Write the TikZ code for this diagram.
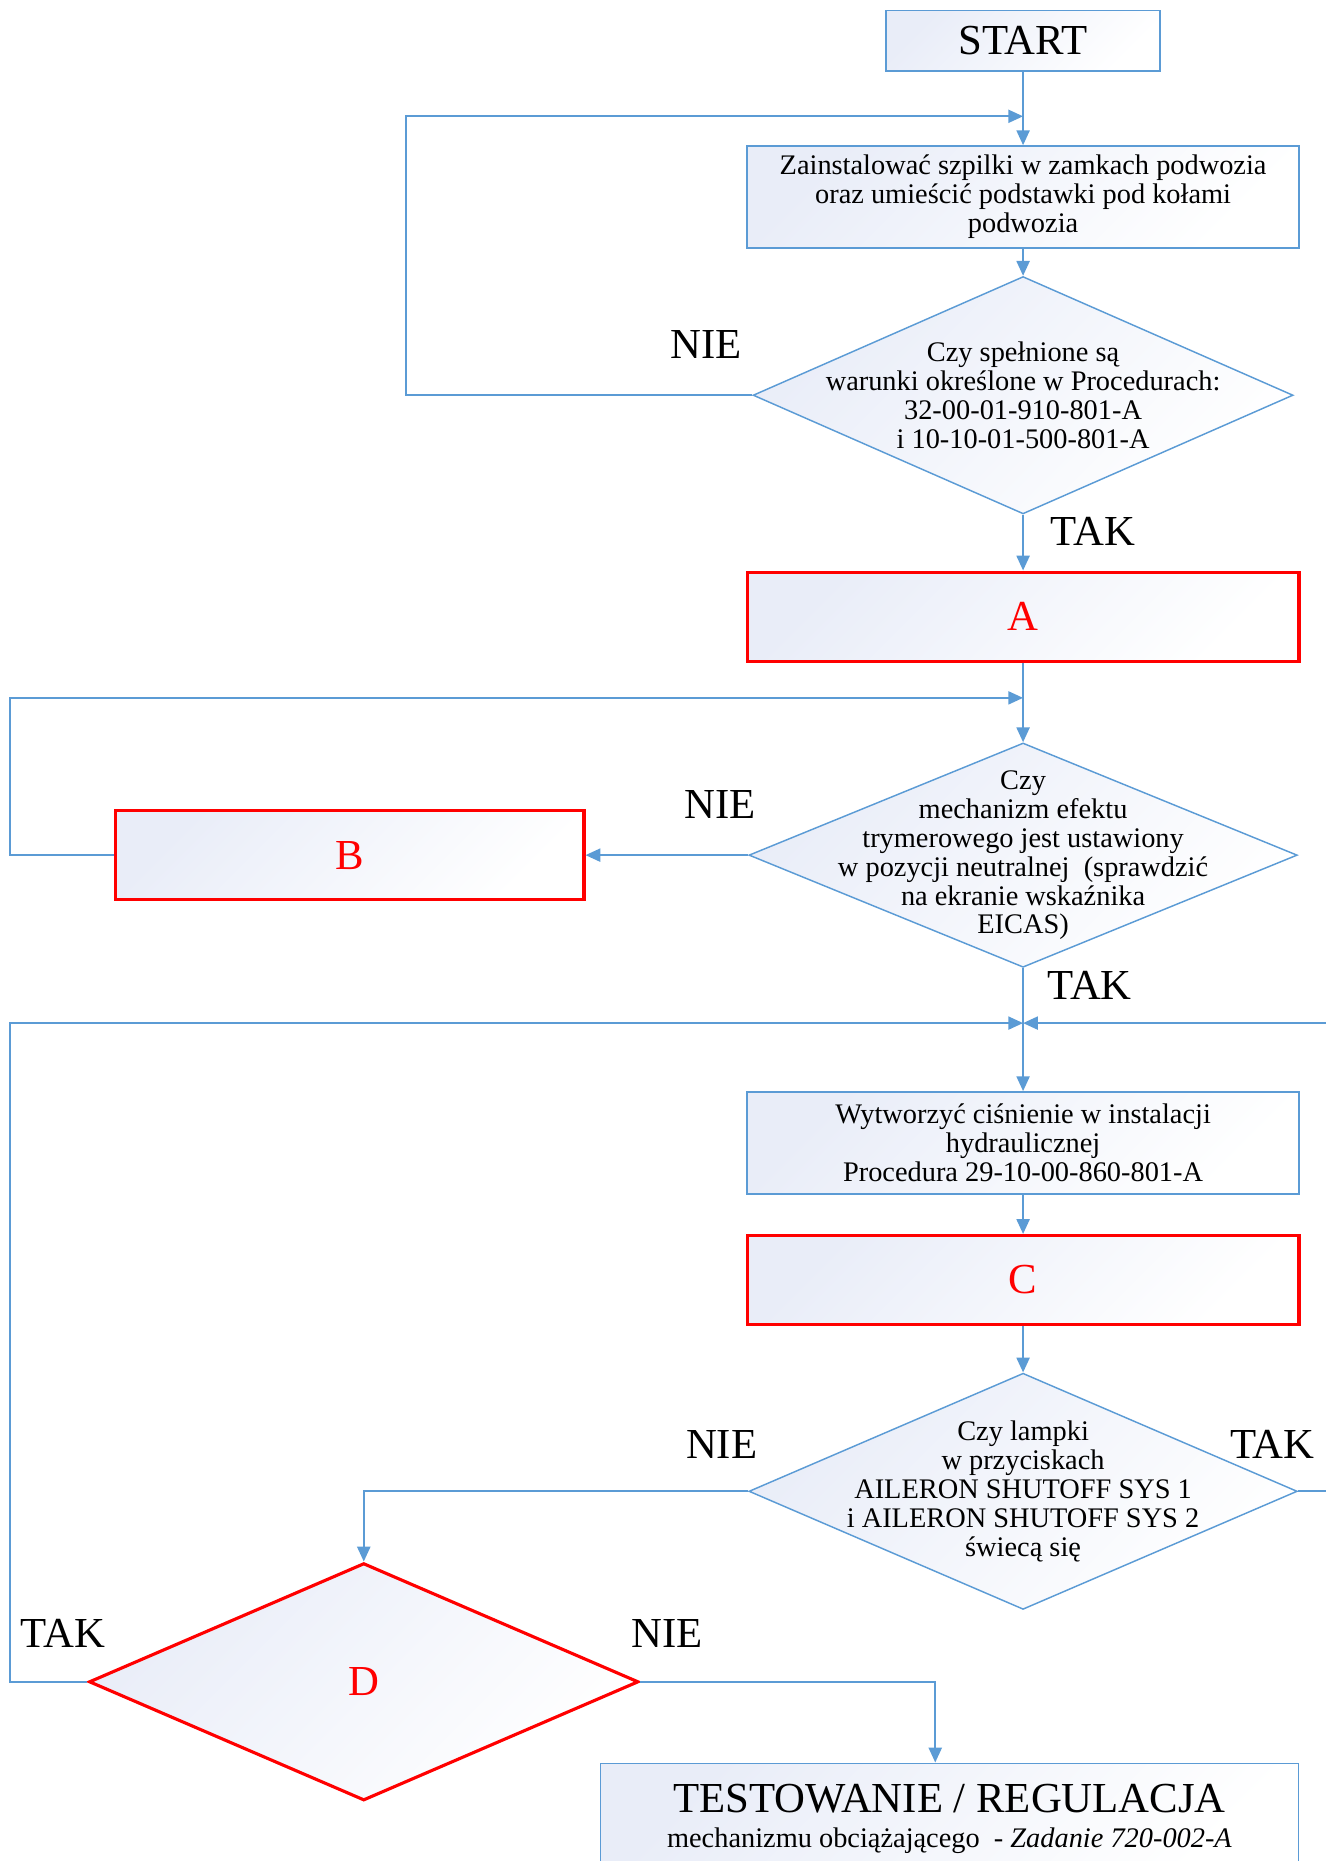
\documentclass[tikz,border=0pt]{standalone}
\usepackage{fontspec}
\setmainfont{Liberation Serif}
\usepackage{tikz}
\usetikzlibrary{shapes.geometric, arrows.meta, positioning}

\definecolor{niebieski}{RGB}{91,155,213}
\definecolor{tlo}{RGB}{233,237,248}

\newcommand{\duzy}{\fontsize{20.5}{24}\selectfont}
\newcommand{\maly}{\fontsize{13.6}{13.9}\selectfont}

\begin{document}
\begin{tikzpicture}[x=0.2mm, y=-0.2mm, >={Triangle[length=2.5mm, width=2.2mm]},
    krok/.style={draw=niebieski, line width=0.75pt, left color=tlo, right color=white,
        shading angle=45, align=center, inner sep=0pt, font=\maly},
    czerwony/.style={krok, draw=red, line width=1.5pt, text=red, font=\duzy},
    decyzja/.style={diamond, draw=niebieski, line width=0.7pt, left color=tlo,
        right color=white, shading angle=45, inner sep=0pt},
    opis/.style={align=center, font=\maly, inner sep=0pt},
    etykieta/.style={font=\duzy, inner sep=0pt},
    linia/.style={niebieski, line width=1pt}]

    \useasboundingbox (0,0) rectangle (1117,1568);

    % 1. Start i pierwsze sprawdzenie
    \node[krok, font=\duzy, minimum width=46.2mm, minimum height=10.2mm] (start) at (862,34.5) {START};
    \node[krok, minimum width=93mm, minimum height=17.2mm] (k1) at (862,166)
        {Zainstalować szpilki w zamkach podwozia\\ oraz umieścić podstawki pod kołami\\ podwozia};
    \node[decyzja, minimum width=91mm, minimum height=40mm] (q1) at (862,333) {};
    \node[opis] (q1t) at (q1) {Czy spełnione są\\ warunki określone w Procedurach:\\ 32-00-01-910-801-A\\ i 10-10-01-500-801-A};
    \coordinate (p1) at (862,98);

    \draw[linia, ->] (start) -- (k1);
    \draw[linia, ->] (k1) -- (q1);
    \draw[linia, ->] (q1.west) -- ++(-292,0) |- (p1);
    \node[etykieta] (n1) at (595,290) {NIE};
    \node[etykieta] (t1) at (921,448) {TAK};

    % 2. Blok A, mechanizm trymera, blok B
    \node[czerwony, minimum width=93mm, minimum height=15mm] (a) at (862,519.5) {A};
    \node[decyzja, minimum width=92.4mm, minimum height=37.8mm] (q2) at (862,720.5) {};
    \node[opis] (q2t) at (q2) {Czy\\ mechanizm efektu\\ trymerowego jest ustawiony\\ w pozycji neutralnej\ \ (sprawdzić\\ na ekranie wskaźnika\\ EICAS)};
    \node[czerwony, minimum width=79mm, minimum height=15mm] (b) at (294.5,720.5) {B};
    \coordinate (p2) at (862,588);

    \draw[linia, ->] (q1) -- (a);
    \draw[linia, ->] (a) -- (q2);
    \draw[linia, ->] (q2.west) -- (b.east);
    \draw[linia, ->] (b.west) -- ++(-87,0) |- (p2);
    \node[etykieta] (n2) at (607,678) {NIE};
    \node[etykieta] (t2) at (918,830) {TAK};

    % 3. Ciśnienie hydrauliczne, blok C, lampki
    \coordinate (p3) at (862,862);
    \node[krok, minimum width=93mm, minimum height=17.2mm] (k3) at (862,963)
        {Wytworzyć ciśnienie w instalacji\\ hydraulicznej\\ Procedura 29-10-00-860-801-A};
    \node[czerwony, minimum width=93mm, minimum height=15mm] (c) at (862,1078.5) {C};
    \node[decyzja, minimum width=92.4mm, minimum height=39.8mm] (q3) at (862,1256.5) {};
    \node[opis] (q3t) at (q3) {Czy lampki\\ w przyciskach\\ AILERON SHUTOFF SYS 1\\ i AILERON SHUTOFF SYS 2\\ świecą się};

    \draw[linia, ->] (q2) -- (k3);
    \draw[linia, ->] (k3) -- (c);
    \draw[linia, ->] (c) -- (q3);
    \draw[linia, ->] (q3.east) -- ++(45,0) |- (p3);
    \node[etykieta] (n3) at (608,1217) {NIE};
    \node[etykieta] (t3) at (1072,1217) {TAK};

    % 4. Blok D i testowanie
    \node[decyzja, draw=red, line width=1.5pt, minimum width=92.6mm, minimum height=40mm,
        text=red, font=\duzy] (d) at (306.5,1417) {D};
    \coordinate (p4) at (788,1485);
    \node[krok, anchor=north, minimum width=117.6mm, inner ysep=3.6mm] (k4) at (800,1485)
        {{\duzy TESTOWANIE / REGULACJA}\\[2.6pt] mechanizmu obciążającego\ \ - \textit{Zadanie 720-002-A}};

    \draw[linia, ->] (q3.west) -| (d.north);
    \draw[linia, ->] (d.west) -- ++(-65,0) |- (p3);
    \draw[linia, ->] (d.east) -| (p4);
    \node[etykieta] (t4) at (53,1376) {TAK};
    \node[etykieta] (n4) at (562,1376) {NIE};
\end{tikzpicture}
\end{document}
